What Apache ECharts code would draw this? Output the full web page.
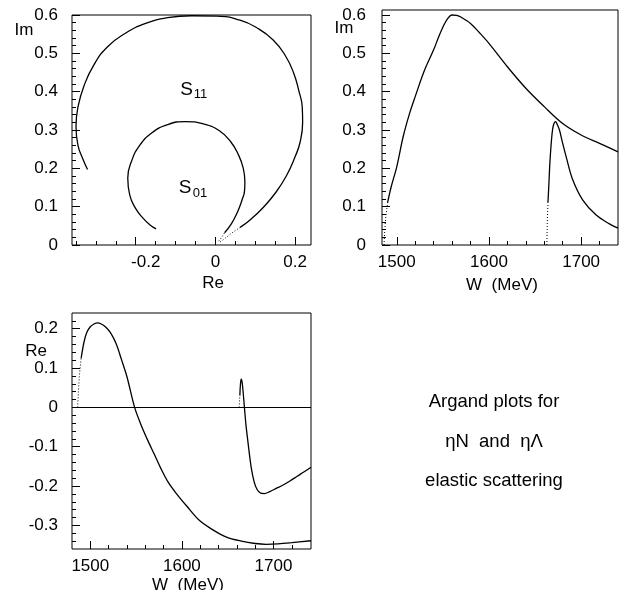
<!DOCTYPE html>
<html><head><meta charset="utf-8">
<script src="https://cdn.jsdelivr.net/npm/echarts@6/dist/echarts.min.js"></script>
<style>html,body{margin:0;padding:0;background:#fff}#c{width:629px;height:590px}</style>
</head><body><div id="c"></div>
<script>
// ---------- Argand plot (Re, Im) ----------
const argS11DotRe = [0.012, 0.025, 0.042, 0.062];
const argS11DotIm = [0.008, 0.018, 0.032, 0.046];
const argS11Re = [0.062, 0.09, 0.12, 0.15, 0.178, 0.2, 0.213, 0.219, 0.218, 0.21, 0.196, 0.175, 0.145, 0.105, 0.06, 0.005, -0.06, -0.12, -0.175, -0.225, -0.27, -0.305, -0.33, -0.345, -0.35, -0.345, -0.333, -0.321];
const argS11Im = [0.046, 0.068, 0.098, 0.135, 0.18, 0.23, 0.27, 0.32, 0.36, 0.40, 0.45, 0.495, 0.535, 0.566, 0.587, 0.597, 0.598, 0.593, 0.578, 0.553, 0.518, 0.47, 0.415, 0.36, 0.31, 0.26, 0.225, 0.197];
const argS01DotRe = [0.008, 0.016, 0.023];
const argS01DotIm = [0.01, 0.02, 0.032];
const argS01Re = [0.023, 0.04, 0.055, 0.067, 0.073, 0.074, 0.07, 0.058, 0.038, 0.01, -0.03, -0.075, -0.12, -0.16, -0.19, -0.21, -0.22, -0.215, -0.2, -0.18, -0.165, -0.149];
const argS01Im = [0.032, 0.055, 0.085, 0.118, 0.14, 0.165, 0.2, 0.235, 0.27, 0.298, 0.316, 0.322, 0.314, 0.292, 0.26, 0.22, 0.175, 0.13, 0.095, 0.068, 0.053, 0.042];

// ---------- Im vs W ----------
const imS11W = [1486.2, 1487, 1488, 1490, 1494, 1500, 1507, 1514, 1520, 1530, 1540, 1545, 1550, 1555, 1560, 1565, 1570, 1580, 1590, 1600, 1620, 1640, 1660, 1680, 1700, 1720, 1740];
const imS11  = [0, 0.04, 0.07, 0.11, 0.152, 0.204, 0.283, 0.344, 0.387, 0.455, 0.509, 0.54, 0.568, 0.59, 0.600, 0.599, 0.594, 0.578, 0.553, 0.526, 0.465, 0.409, 0.361, 0.317, 0.287, 0.265, 0.243];
const imS01W = [1662.8, 1663.3, 1664, 1664.9, 1666.3, 1668.5, 1670, 1672.3, 1674, 1676.5, 1680, 1683.8, 1690.9, 1701.8, 1716.3, 1730.7, 1740];
const imS01  = [0, 0.06, 0.11, 0.152, 0.222, 0.291, 0.313, 0.322, 0.315, 0.300, 0.265, 0.230, 0.170, 0.117, 0.078, 0.055, 0.044];

// ---------- Re vs W ----------
const reS11W = [1486.2, 1487, 1488, 1490, 1493, 1496, 1500, 1504, 1508, 1512, 1517, 1522, 1528, 1534, 1540, 1548.4, 1555, 1562, 1570, 1577, 1585, 1594, 1605, 1619, 1633, 1648, 1665, 1680, 1692, 1705, 1720, 1741];
const reS11  = [0.0, 0.04, 0.08, 0.125, 0.165, 0.19, 0.205, 0.212, 0.215, 0.212, 0.204, 0.19, 0.163, 0.122, 0.078, 0.0, -0.042, -0.08, -0.12, -0.155, -0.19, -0.219, -0.25, -0.287, -0.31, -0.329, -0.34, -0.346, -0.348, -0.347, -0.344, -0.339];
const reS01W = [1662.6, 1663.3, 1664, 1664.8, 1666, 1668.3, 1670, 1672, 1675.6, 1679, 1682, 1686, 1690, 1696, 1703, 1710, 1718, 1726, 1734, 1741];
const reS01  = [0.0, 0.03, 0.06, 0.072, 0.06, 0.0, -0.045, -0.085, -0.151, -0.19, -0.208, -0.218, -0.219, -0.214, -0.206, -0.198, -0.187, -0.175, -0.163, -0.152];

// ---------- tick labels ----------
const argXLabels = [-0.2, 0, 0.2];
const imYLabels = [0, 0.1, 0.2, 0.3, 0.4, 0.5, 0.6];
const wLabels = [1500, 1600, 1700];
const reYLabels = [-0.3, -0.2, -0.1, 0, 0.1, 0.2];

function range(a, b, step) { const r = []; const n = Math.round((b - a) / step); for (let i = 0; i <= n; i++) r.push(Math.round((a + i * step) * 1000) / 1000); return r; }
const argXMinor = range(-0.35, 0.15, 0.05);
const imYMinor = range(0.02, 0.58, 0.02);
const wMinor = range(1500, 1720, 20);
const reYMinor = range(-0.34, 0.22, 0.02);

const FONT = '"Liberation Sans", Arial, Helvetica, sans-serif';
const LBL = 17;
const zip = (a, b) => a.map((v, i) => [v, b[i]]);

function fmtNum(v) { return String(Math.round(v * 100) / 100); }

function axisPair(dim, grid, min, max, majors, minors, fmt, margin, rich) {
  const base = { type: 'value', gridIndex: grid, min, max, splitLine: { show: false }, axisLine: { show: false, onZero: false }, position: dim === 'x' ? 'bottom' : 'left' };
  const major = Object.assign({}, base, {
    axisTick: { show: true, inside: true, length: 8, customValues: majors, lineStyle: { color: '#000', width: 1 } },
    axisLabel: { show: true, customValues: majors, formatter: fmt, color: '#000', fontFamily: FONT, fontSize: LBL, margin, rich }
  });
  const minor = Object.assign({}, base, {
    axisTick: { show: true, inside: true, length: 4, customValues: minors, lineStyle: { color: '#000', width: 1 } },
    axisLabel: { show: false }
  });
  return [major, minor];
}

const xAxes = [].concat(
  axisPair('x', 0, -0.36, 0.24, argXLabels, argXMinor, v => v < 0 ? '{n|' + fmtNum(v) + '}' : fmtNum(v), 9, { n: { padding: [0, 0, 0, 20], fontSize: LBL, fontFamily: FONT, color: '#000' } }),
  axisPair('x', 1, 1484, 1740, wLabels, wMinor, v => String(v), 9),
  axisPair('x', 2, 1480, 1741, wLabels, wMinor, v => String(v), 9)
);
const yAxes = [].concat(
  axisPair('y', 0, 0, 0.6, imYLabels, imYMinor, fmtNum, 14),
  axisPair('y', 1, 0, 0.613, imYLabels, imYMinor, fmtNum, 16),
  axisPair('y', 2, -0.36, 0.24, reYLabels, reYMinor, fmtNum, 14)
);

const solid = { color: '#000', width: 1.3 };
const dotted = { color: '#000', width: 1, type: [1, 2] };
function line(ax, data, style, smooth, extra) {
  return Object.assign({ type: 'line', xAxisIndex: ax, yAxisIndex: ax, data, showSymbol: false, symbol: 'none', lineStyle: style, smooth, silent: true, z: 3 }, extra || {});
}

const series = [
  line(0, zip(argS11DotRe, argS11DotIm), dotted, false),
  line(0, zip(argS11Re, argS11Im), solid, 0.5),
  line(0, zip(argS01DotRe, argS01DotIm), dotted, false),
  line(0, zip(argS01Re, argS01Im), solid, 0.5),
  line(2, zip(imS11W, imS11).slice(0, 4), dotted, false),
  line(2, zip(imS11W, imS11).slice(3), solid, 0.35),
  line(2, zip(imS01W, imS01).slice(0, 3), dotted, false),
  line(2, zip(imS01W, imS01).slice(2), solid, 0.35),
  line(4, zip(reS11W, reS11).slice(0, 4), dotted, false),
  line(4, zip(reS11W, reS11).slice(3), solid, 0.35, {
    markLine: { silent: true, symbol: 'none', label: { show: false }, lineStyle: { color: '#000', type: 'solid', width: 1.2 }, data: [{ yAxis: 0 }], animation: false }
  }),
  line(4, zip(reS01W, reS01).slice(0, 2), dotted, false),
  line(4, zip(reS01W, reS01).slice(1), solid, 0.35)
];

function txt(x, y, text, size) {
  return { type: 'text', x, y, silent: true, style: { text, fill: '#000', font: size + 'px ' + FONT, align: 'center', verticalAlign: 'middle', textAlign: 'center', textVerticalAlign: 'middle' } };
}

const chart = echarts.init(document.getElementById('c'), null, { renderer: 'canvas' });
chart.setOption({
  animation: false,
  backgroundColor: '#fff',
  grid: [
    { left: 72, top: 15, width: 239, height: 230, show: true, borderColor: '#000', borderWidth: 1, containLabel: false, outerBoundsMode: 'none' },
    { left: 382, top: 10, width: 236, height: 235, show: true, borderColor: '#000', borderWidth: 1, containLabel: false, outerBoundsMode: 'none' },
    { left: 72, top: 313, width: 239, height: 236, show: true, borderColor: '#000', borderWidth: 1, containLabel: false, outerBoundsMode: 'none' }
  ],
  xAxis: xAxes,
  yAxis: yAxes,
  series,
  graphic: [
    txt(24, 30, 'Im', LBL),
    txt(213, 283, 'Re', LBL),
    txt(186.5, 90, 'S', 19),
    txt(200.5, 94.5, '11', 13),
    txt(185, 188, 'S', 19),
    txt(200, 193, '01', 13),
    txt(344, 28, 'Im', LBL),
    txt(502, 285, 'W  (MeV)', LBL),
    txt(36, 351, 'Re', LBL),
    txt(188, 585, 'W  (MeV)', LBL),
    txt(494, 402, 'Argand plots for', 18.5),
    txt(494, 442, 'ηN  and  ηΛ', 18.5),
    txt(494, 481, 'elastic scattering', 18.5)
  ]
});
</script></body></html>
